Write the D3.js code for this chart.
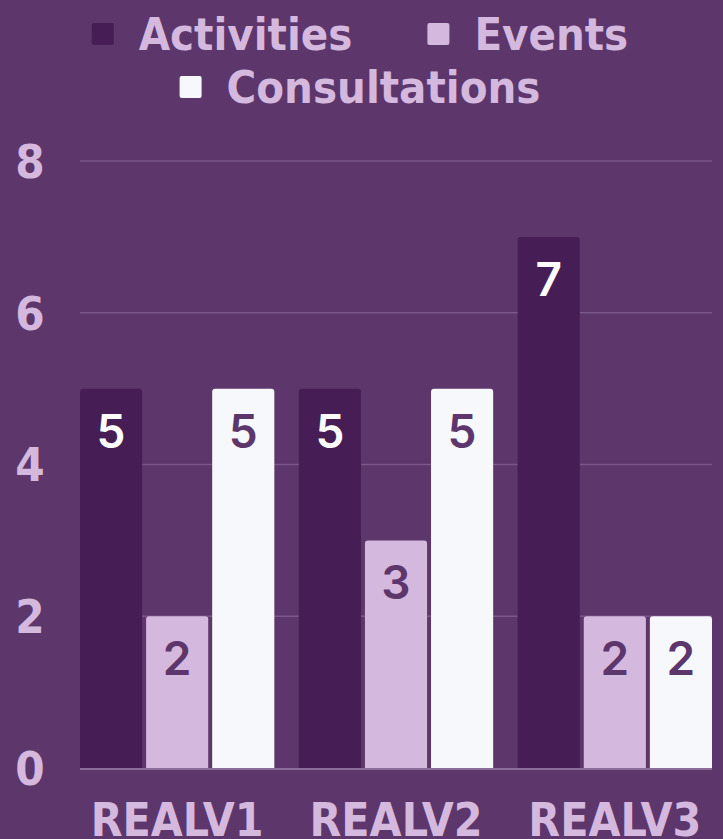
<!DOCTYPE html>
<html>
<head>
<meta charset="utf-8">
<script src="https://cdn.jsdelivr.net/npm/d3@7"></script>
<style>
  html, body { margin: 0; padding: 0; background: #5d366b; }
  svg { display: block; }
</style>
</head>
<body>
<svg id="chart" width="723" height="839"></svg>
<script>
const categories = ["REALV1", "REALV2", "REALV3"];
const seriesNames = ["Activities", "Events", "Consultations"];
const activities = [5, 5, 7];
const events = [2, 3, 2];
const consultations = [5, 5, 2];
const yTicks = [0, 2, 4, 6, 8];

(function () {
const colors = ["#461e55", "#d4b8de", "#f7f8fc"];
const labelColors = ["#ffffff", "#5d366b", "#5d366b"];
const textColor = "#d4b8de";
const axisFont = "'DejaVu Sans Condensed', 'DejaVu Sans', sans-serif";
const valueFont = "Inter, Roboto, sans-serif";

const seriesValues = [activities, events, consultations];
const data = categories.map((c, i) => ({
  cat: c,
  vals: seriesNames.map((s, j) => ({ key: s, idx: j, value: seriesValues[j][i] }))
}));

const svg = d3.select("#chart");
svg.append("rect").attr("width", 723).attr("height", 839).attr("fill", "#5d366b");

const pLeft = 80, pRight = 712, pTop = 161, pBottom = 768;

const x0 = d3.scaleBand().domain(categories).range([pLeft, pRight]).paddingInner(0.112).paddingOuter(0);
const x1 = d3.scaleBand().domain(seriesNames).range([0, x0.bandwidth()]).paddingInner(0.06).paddingOuter(0);
const y = d3.scaleLinear().domain([0, 8]).range([pBottom, pTop]);

// gridlines
svg.append("g").selectAll("line").data(yTicks.filter(t => t > 0)).join("line")
  .attr("x1", pLeft).attr("x2", pRight)
  .attr("y1", d => y(d)).attr("y2", d => y(d))
  .attr("stroke", "#7a5689").attr("stroke-width", 1.5);

// y tick labels
svg.append("g").selectAll("text").data(yTicks).join("text")
  .attr("x", 30).attr("y", d => y(d))
  .attr("dy", "0.36em")
  .attr("text-anchor", "middle")
  .attr("fill", textColor)
  .attr("font-family", axisFont).attr("font-weight", "bold").attr("font-size", 47)
  .text(d => d);

// bars
const r = 3;
function topRounded(x, yTop, w, h) {
  const rr = Math.min(r, h);
  return `M${x},${yTop + h} V${yTop + rr} Q${x},${yTop} ${x + rr},${yTop} H${x + w - rr} Q${x + w},${yTop} ${x + w},${yTop + rr} V${yTop + h} Z`;
}
const groups = svg.append("g").selectAll("g").data(data).join("g")
  .attr("transform", d => `translate(${x0(d.cat)},0)`);

groups.selectAll("path").data(d => d.vals).join("path")
  .attr("d", d => topRounded(x1(d.key), y(d.value), x1.bandwidth(), y(0) - y(d.value)))
  .attr("fill", d => colors[d.idx]);

groups.selectAll("text").data(d => d.vals).join("text")
  .attr("x", d => x1(d.key) + x1.bandwidth() / 2)
  .attr("y", d => y(d.value) + 59)
  .attr("text-anchor", "middle")
  .attr("fill", d => labelColors[d.idx])
  .attr("font-family", valueFont).attr("font-weight", 600).attr("font-size", 46)
  .text(d => d.value);

// baseline
svg.append("line").attr("x1", pLeft).attr("x2", pRight)
  .attr("y1", y(0) + 1).attr("y2", y(0) + 1)
  .attr("stroke", "#8b6c98").attr("stroke-width", 2);

// x labels
svg.append("g").selectAll("text").data(categories).join("text")
  .attr("x", d => x0(d) + x0.bandwidth() / 2)
  .attr("y", 836)
  .attr("text-anchor", "middle")
  .attr("fill", textColor)
  .attr("font-family", axisFont).attr("font-weight", "bold").attr("font-size", 46)
  .text(d => d);

// legend
const legendRows = [[0, 1], [2]];
const legendBaselines = [50, 103];
const sq = 22, sqGap = 25, itemGap = 75, centerX = 360;
const lg = svg.append("g");
legendRows.forEach((row, ri) => {
  const items = row.map(i => {
    const t = lg.append("text")
      .attr("font-family", axisFont).attr("font-weight", "bold").attr("font-size", 45)
      .attr("fill", textColor).attr("y", legendBaselines[ri])
      .text(seriesNames[i]);
    return { i, t, w: t.node().getComputedTextLength() };
  });
  const total = d3.sum(items, d => sq + sqGap + d.w) + itemGap * (items.length - 1);
  let xpos = centerX - total / 2;
  items.forEach(it => {
    lg.append("rect").attr("x", xpos).attr("y", legendBaselines[ri] - 27)
      .attr("width", sq).attr("height", sq).attr("rx", 2)
      .attr("fill", colors[it.i]);
    it.t.attr("x", xpos + sq + sqGap);
    xpos += sq + sqGap + it.w + itemGap;
  });
});
})();
</script>
</body>
</html>
